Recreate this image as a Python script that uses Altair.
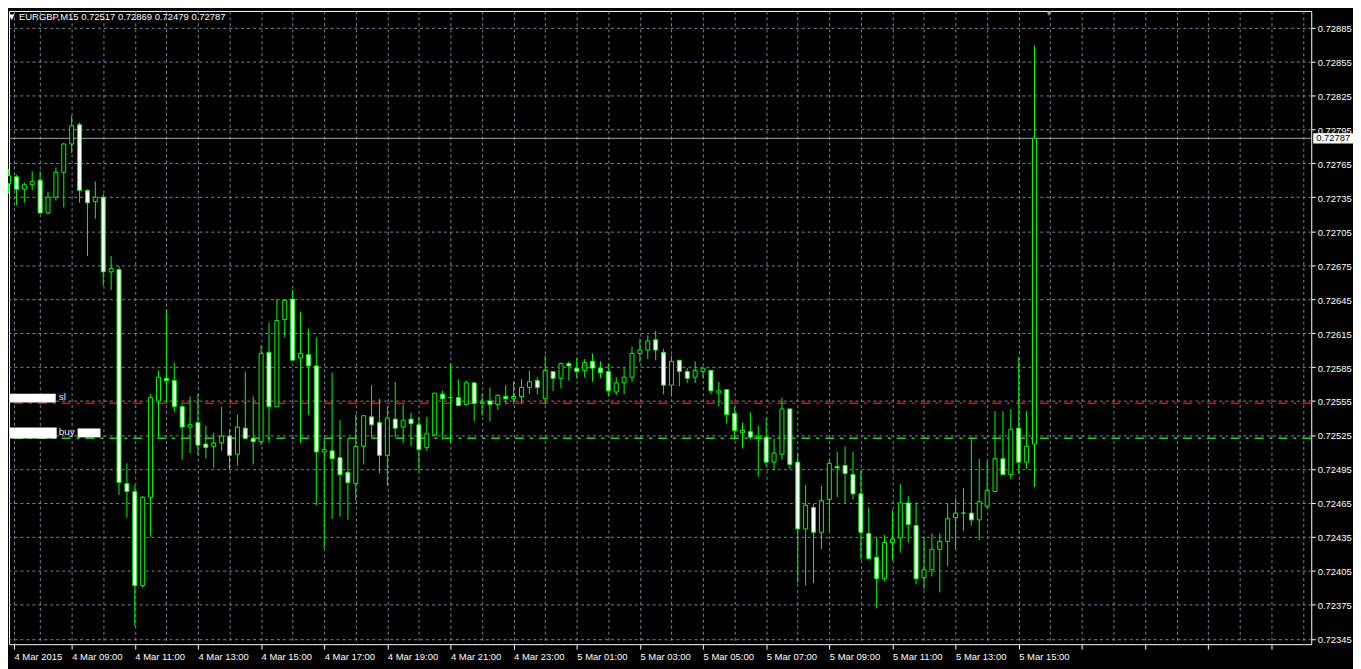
import altair as alt
import pandas as pd

symbol = "EURGBP,M15"

opens = [
    0.72747, 0.72753, 0.72742, 0.72746, 0.72750, 0.72721, 0.72735, 0.72757, 0.72782, 0.72799,
    0.72741, 0.72731, 0.72735, 0.72669, 0.72671, 0.72482, 0.72475, 0.72392, 0.72470, 0.72555,
    0.72575, 0.72573, 0.72550, 0.72532, 0.72536, 0.72517, 0.72515, 0.72518, 0.72524, 0.72508,
    0.72531, 0.72522, 0.72519, 0.72598, 0.72550, 0.72627, 0.72645, 0.72593, 0.72596, 0.72586,
    0.72510, 0.72511, 0.72505, 0.72492, 0.72482, 0.72515, 0.72541, 0.72536, 0.72507, 0.72539,
    0.72532, 0.72539, 0.72534, 0.72514, 0.72525, 0.72561, 0.72558, 0.72558, 0.72552, 0.72571,
    0.72553, 0.72555, 0.72552, 0.72559, 0.72557, 0.72559, 0.72567, 0.72573, 0.72557, 0.72581,
    0.72575, 0.72588, 0.72584, 0.72582, 0.72590, 0.72584, 0.72581, 0.72563, 0.72571, 0.72576,
    0.72597, 0.72600, 0.72609, 0.72598, 0.72569, 0.72591, 0.72581, 0.72576, 0.72581, 0.72582,
    0.72562, 0.72565, 0.72544, 0.72527, 0.72528, 0.72523, 0.72523, 0.72501, 0.72508, 0.72548,
    0.72501, 0.72442, 0.72461, 0.72439, 0.72468, 0.72497, 0.72498, 0.72490, 0.72473, 0.72438,
    0.72417, 0.72398, 0.72430, 0.72434, 0.72465, 0.72445, 0.72399, 0.72406, 0.72424, 0.72431,
    0.72452, 0.72456, 0.72456, 0.72450, 0.72462, 0.72475, 0.72504, 0.72490, 0.72531, 0.72501,
    0.72517,
]
highs = [
    0.72760, 0.72755, 0.72748, 0.72758, 0.72758, 0.72740, 0.72761, 0.72783, 0.72807, 0.72801,
    0.72742, 0.72749, 0.72738, 0.72683, 0.72674, 0.72500, 0.72481, 0.72471, 0.72561, 0.72582,
    0.72636, 0.72589, 0.72552, 0.72559, 0.72561, 0.72533, 0.72527, 0.72550, 0.72530, 0.72543,
    0.72581, 0.72559, 0.72604, 0.72624, 0.72645, 0.72645, 0.72653, 0.72634, 0.72619, 0.72611,
    0.72522, 0.72580, 0.72538, 0.72522, 0.72543, 0.72542, 0.72569, 0.72557, 0.72550, 0.72572,
    0.72552, 0.72545, 0.72541, 0.72541, 0.72562, 0.72564, 0.72588, 0.72574, 0.72573, 0.72571,
    0.72561, 0.72567, 0.72561, 0.72569, 0.72572, 0.72574, 0.72582, 0.72576, 0.72595, 0.72581,
    0.72589, 0.72590, 0.72593, 0.72592, 0.72597, 0.72590, 0.72588, 0.72576, 0.72584, 0.72603,
    0.72610, 0.72613, 0.72617, 0.72601, 0.72595, 0.72591, 0.72584, 0.72590, 0.72584, 0.72582,
    0.72572, 0.72565, 0.72550, 0.72536, 0.72545, 0.72533, 0.72540, 0.72522, 0.72558, 0.72548,
    0.72509, 0.72481, 0.72464, 0.72480, 0.72504, 0.72510, 0.72515, 0.72510, 0.72494, 0.72461,
    0.72435, 0.72437, 0.72459, 0.72482, 0.72471, 0.72465, 0.72435, 0.72438, 0.72438, 0.72464,
    0.72469, 0.72478, 0.72522, 0.72504, 0.72502, 0.72546, 0.72546, 0.72548, 0.72594, 0.72546,
    0.72869,
]
lows = [
    0.72738, 0.72728, 0.72730, 0.72741, 0.72721, 0.72720, 0.72732, 0.72726, 0.72774, 0.72730,
    0.72683, 0.72716, 0.72657, 0.72653, 0.72472, 0.72452, 0.72356, 0.72390, 0.72435, 0.72523,
    0.72553, 0.72545, 0.72503, 0.72509, 0.72507, 0.72504, 0.72496, 0.72511, 0.72494, 0.72498,
    0.72522, 0.72499, 0.72516, 0.72518, 0.72550, 0.72611, 0.72591, 0.72518, 0.72543, 0.72463,
    0.72425, 0.72451, 0.72453, 0.72450, 0.72467, 0.72499, 0.72522, 0.72491, 0.72480, 0.72523,
    0.72518, 0.72515, 0.72493, 0.72511, 0.72524, 0.72521, 0.72518, 0.72551, 0.72551, 0.72537,
    0.72542, 0.72537, 0.72547, 0.72552, 0.72552, 0.72553, 0.72561, 0.72561, 0.72552, 0.72564,
    0.72566, 0.72573, 0.72575, 0.72576, 0.72572, 0.72575, 0.72559, 0.72560, 0.72561, 0.72572,
    0.72589, 0.72592, 0.72591, 0.72561, 0.72559, 0.72568, 0.72571, 0.72571, 0.72575, 0.72561,
    0.72550, 0.72535, 0.72521, 0.72513, 0.72521, 0.72488, 0.72497, 0.72494, 0.72503, 0.72495,
    0.72394, 0.72392, 0.72394, 0.72424, 0.72440, 0.72470, 0.72465, 0.72468, 0.72415, 0.72414,
    0.72372, 0.72396, 0.72414, 0.72421, 0.72430, 0.72393, 0.72389, 0.72400, 0.72386, 0.72409,
    0.72424, 0.72440, 0.72445, 0.72432, 0.72460, 0.72475, 0.72490, 0.72486, 0.72491, 0.72495,
    0.72479,
]
closes = [
    0.72754, 0.72742, 0.72746, 0.72749, 0.72721, 0.72735, 0.72757, 0.72782, 0.72798, 0.72741,
    0.72730, 0.72735, 0.72669, 0.72672, 0.72483, 0.72475, 0.72392, 0.72470, 0.72558, 0.72576,
    0.72573, 0.72550, 0.72532, 0.72534, 0.72516, 0.72514, 0.72518, 0.72524, 0.72507, 0.72532,
    0.72522, 0.72519, 0.72597, 0.72550, 0.72626, 0.72644, 0.72591, 0.72597, 0.72586, 0.72510,
    0.72512, 0.72504, 0.72490, 0.72483, 0.72515, 0.72542, 0.72534, 0.72507, 0.72540, 0.72531,
    0.72538, 0.72535, 0.72512, 0.72526, 0.72562, 0.72557, 0.72558, 0.72551, 0.72571, 0.72553,
    0.72554, 0.72552, 0.72560, 0.72557, 0.72559, 0.72567, 0.72572, 0.72567, 0.72582, 0.72575,
    0.72588, 0.72586, 0.72581, 0.72589, 0.72584, 0.72580, 0.72564, 0.72571, 0.72576, 0.72597,
    0.72600, 0.72608, 0.72600, 0.72569, 0.72590, 0.72581, 0.72575, 0.72582, 0.72584, 0.72564,
    0.72564, 0.72543, 0.72529, 0.72529, 0.72523, 0.72524, 0.72501, 0.72509, 0.72548, 0.72499,
    0.72442, 0.72463, 0.72439, 0.72467, 0.72500, 0.72496, 0.72491, 0.72473, 0.72439, 0.72416,
    0.72398, 0.72430, 0.72433, 0.72465, 0.72446, 0.72398, 0.72406, 0.72424, 0.72431, 0.72451,
    0.72456, 0.72456, 0.72450, 0.72466, 0.72476, 0.72504, 0.72490, 0.72530, 0.72501, 0.72515,
    0.72787,
]

x_tick_labels = [
    "4 Mar 2015", "4 Mar 09:00", "4 Mar 11:00", "4 Mar 13:00", "4 Mar 15:00",
    "4 Mar 17:00", "4 Mar 19:00", "4 Mar 21:00", "4 Mar 23:00", "5 Mar 01:00",
    "5 Mar 03:00", "5 Mar 05:00", "5 Mar 07:00", "5 Mar 09:00", "5 Mar 11:00",
    "5 Mar 13:00", "5 Mar 15:00",
]
y_tick_values = [
    0.72345, 0.72375, 0.72405, 0.72435, 0.72465, 0.72495, 0.72525, 0.72555, 0.72585,
    0.72615, 0.72645, 0.72675, 0.72705, 0.72735, 0.72765, 0.72795, 0.72825, 0.72855,
    0.72885,
]
bid_price = 0.72787
sl_price = 0.72553
buy_price = 0.72522

# ---------------------------------------------------------------- layout
FONT = "Liberation Sans"
FS = 9.5
W, H = 1310, 637
X_DOMAIN = [0.6875, 164.4375]
Y_DOMAIN = [0.7234022, 0.7289949]
LIME = "#00ff00"
GRID = "#778899"

df = pd.DataFrame({
    "k": list(range(len(opens))),
    "open": opens, "high": highs, "low": lows, "close": closes,
})

grid_values = [X_DOMAIN[0]] + list(range(4, 165, 4))
label_arr = "[" + ",".join("'" + s + "'" for s in x_tick_labels) + "]"
label_expr = ("datum.value % 8 < 1 ? (" + label_arr +
              "[round(datum.value / 8)] || '') : ''")

xscale = alt.Scale(domain=X_DOMAIN, nice=False, zero=False)
yscale = alt.Scale(domain=Y_DOMAIN, nice=False, zero=False)

xaxis = alt.Axis(
    orient="bottom", values=grid_values, labelExpr=label_expr, title=None,
    labelAlign="left", labelBaseline="top", labelColor="white", labelFont=FONT,
    labelFontSize=FS, labelPadding=2, labelOverlap=False, labelFlush=False,
    tickColor="white", tickSize=5, tickWidth=1,
    tickOpacity={"condition": {"test": "datum.value % 8 < 1", "value": 1}, "value": 0},
    grid=True, gridColor=GRID, gridDash=[3, 3], gridWidth=1, domain=False,
)
yaxis = alt.Axis(
    orient="right", values=y_tick_values, format=".5f", title=None,
    labelColor="white", labelFont=FONT, labelFontSize=FS, labelPadding=2,
    labelOffset=1, labelOverlap=False, labelFlush=False,
    tickColor="white", tickSize=4, tickWidth=1,
    grid=True, gridColor=GRID, gridDash=[3, 3], gridWidth=1, domain=False,
)


def X(field):
    return alt.X(field, type="quantitative", scale=xscale, axis=xaxis)


def Y(field):
    return alt.Y(field, type="quantitative", scale=yscale, axis=yaxis)


one = pd.DataFrame({"a": [0]})

# order lines
sl_line = alt.Chart(pd.DataFrame({"price": [sl_price]})).mark_rule(
    color="#ff0000", strokeWidth=1.5, strokeDash=[9, 6, 3, 6]).encode(y=Y("price"))
buy_line = alt.Chart(pd.DataFrame({"price": [buy_price]})).mark_rule(
    color="#22d022", strokeWidth=1.5, strokeDash=[9, 6, 3, 6]).encode(y=Y("price"))
bid_line = alt.Chart(pd.DataFrame({"price": [bid_price]})).mark_rule(
    color="#a8a8a8", strokeWidth=1).encode(y=Y("price"))

# candles
wicks = alt.Chart(df).mark_rule(color=LIME, strokeWidth=1).encode(
    x=X("k"), y=Y("low"), y2="high")
bodies = alt.Chart(df).mark_bar(size=4, stroke=LIME, strokeWidth=1).encode(
    x=X("k"), y=Y("open"), y2="close",
    fill=alt.condition("datum.close < datum.open", alt.value("#ffffff"), alt.value("#000000")),
)


# line descriptions (with the redaction blotches of the original)
def blot(x1, x2, y1, y2):
    return alt.Chart(one).mark_rect(color="#ffffff").encode(
        x=alt.value(x1), x2=alt.value(x2), y=alt.value(y1), y2=alt.value(y2))


sl_text = alt.Chart(pd.DataFrame({"price": [sl_price], "t": ["sl"]})).mark_text(
    align="left", baseline="bottom", dy=-1, color="#e6ecff", font=FONT, fontSize=10
).encode(x=alt.value(50), y=Y("price"), text="t:N")
buy_text = alt.Chart(pd.DataFrame({"price": [buy_price], "t": ["buy"]})).mark_text(
    align="left", baseline="bottom", dy=-1, color="#e6ecff", font=FONT, fontSize=10
).encode(x=alt.value(50), y=Y("price"), text="t:N")

# current price label on the axis
bid_df = pd.DataFrame({"price": [bid_price]})
bid_box = alt.Chart(bid_df).transform_calculate(
    top="datum.price + 0.000045", bot="datum.price - 0.000045"
).mark_rect(color="#ffffff").encode(
    x=alt.value(W + 2), x2=alt.value(W + 43), y=Y("top"), y2="bot")
bid_label = alt.Chart(bid_df).transform_calculate(
    t="format(datum.price, '.5f')"
).mark_text(align="left", baseline="middle", color="#000000", font=FONT, fontSize=FS).encode(
    x=alt.value(W + 5), y=Y("price"), text="t:N")

# header and chart-shift marker
header_txt = "\u25bc {}  {:.5f} {:.5f} {:.5f} {:.5f}".format(
    symbol, opens[-1], highs[-1], lows[-1], closes[-1])
header = alt.Chart(pd.DataFrame({"t": [header_txt]})).mark_text(
    align="left", baseline="middle", color="#ffffff", font=FONT, fontSize=FS
).encode(x=alt.value(-2), y=alt.value(6), text="t:N")
shift_mark = alt.Chart(pd.DataFrame({"t": ["\u25bc"]})).mark_text(
    align="center", baseline="middle", color="#9a9a9a", font=FONT, fontSize=8
).encode(x=alt.value(1046), y=alt.value(3), text="t:N")

chart = alt.layer(
    sl_line, buy_line, bid_line, wicks, bodies,
    blot(1, 47, 385, 394), blot(1, 48, 419, 430), blot(69, 92, 420, 429),
    sl_text, buy_text, bid_box, bid_label, header, shift_mark,
).properties(
    width=W, height=H,
    padding={"left": 1, "top": 1, "right": 42, "bottom": 23},
    autosize=alt.AutoSizeParams(type="none"),
).configure(
    background="#000000",
).configure_view(
    stroke="#ffffff", strokeWidth=1,
)

chart.save("out.html", embed_options={"renderer": "svg", "actions": False})
